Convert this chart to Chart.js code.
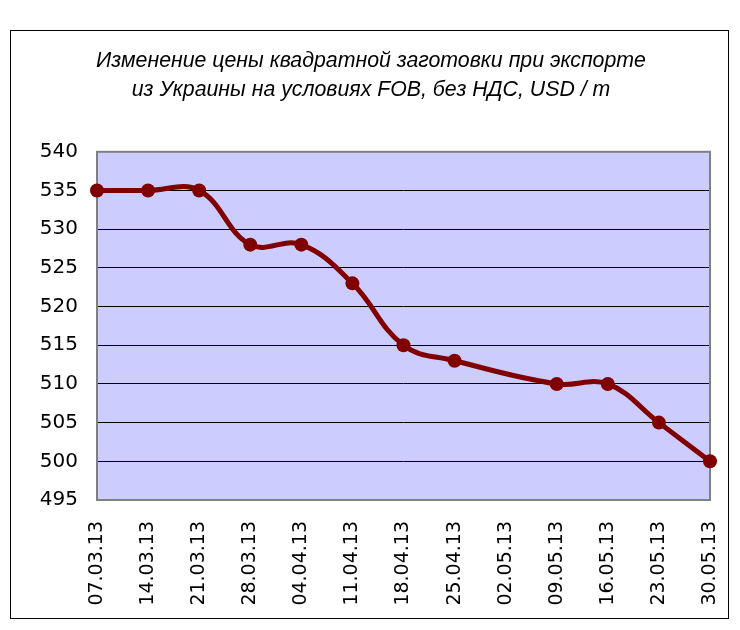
<!DOCTYPE html>
<html>
<head>
<meta charset="utf-8">
<script src="https://cdn.jsdelivr.net/npm/chart.js@4"></script>
<style>
  body { margin: 0; background: #fff; }
  canvas { display: block; }
</style>
</head>
<body>
<canvas id="priceChart" width="740" height="630"></canvas>
<script>
const dates = ['07.03.13', '14.03.13', '21.03.13', '28.03.13', '04.04.13', '11.04.13', '18.04.13',
  '25.04.13', '02.05.13', '09.05.13', '16.05.13', '23.05.13', '30.05.13'];
// 02.05.13 has no marker in the source, the line just runs across it
const prices = [535, 535, 535, 528, 528, 523, 515, 513, null, 510, 510, 505, 500];
const yMin = 495;
const yMax = 540;
const yStep = 5;
const titleLines = [
  'Изменение цены квадратной заготовки при экспорте',
  'из Украины на условиях FOB, без НДС, USD / т'
];

const framePlugin = {
  id: 'frame',
  beforeDraw(chart) {
    const c = chart.ctx;
    const a = chart.chartArea;
    c.save();
    c.fillStyle = '#fff';
    c.fillRect(0, 0, chart.width, chart.height);
    c.strokeStyle = '#000';
    c.lineWidth = 1;
    c.strokeRect(10.5, 30.5, 718, 588);
    c.fillStyle = '#ccccff';
    c.fillRect(a.left, a.top, a.right - a.left, a.bottom - a.top);
    c.restore();
  },
  beforeDatasetsDraw(chart) {
    const c = chart.ctx;
    const a = chart.chartArea;
    c.save();
    c.strokeStyle = '#808080';
    c.lineWidth = 2;
    c.strokeRect(a.left, a.top, a.right - a.left, a.bottom - a.top);
    c.restore();
  }
};

const ctx = document.getElementById('priceChart').getContext('2d');

new Chart(ctx, {
  type: 'line',
  data: {
    labels: dates,
    datasets: [{
      data: prices,
      borderColor: '#800000',
      backgroundColor: '#800000',
      borderWidth: 5,
      pointRadius: 7,
      pointBorderWidth: 0,
      pointBackgroundColor: '#800000',
      tension: 0.4,
      spanGaps: true,
      clip: false
    }]
  },
  options: {
    responsive: false,
    animation: false,
    layout: { padding: { left: 32, right: 30, top: 46, bottom: 8 } },
    plugins: {
      legend: { display: false },
      tooltip: { enabled: false },
      title: {
        display: true,
        text: titleLines,
        color: '#000',
        font: { family: 'Liberation Sans', size: 21.3, style: 'italic', weight: 'normal', lineHeight: 1.38 },
        padding: { top: 0, bottom: 47 }
      }
    },
    scales: {
      x: {
        grid: { display: false, drawTicks: false },
        border: { display: false },
        afterFit: s => {
          s.height = 122;
          s.paddingLeft = 0;
          s.paddingRight = 0;
        },
        ticks: {
          autoSkip: false,
          minRotation: 90,
          maxRotation: 90,
          padding: 21,
          color: '#000',
          font: { family: 'DejaVu Sans', size: 19 }
        }
      },
      y: {
        min: yMin,
        max: yMax,
        afterFit: s => { s.width = 65; },
        grid: { color: '#000', lineWidth: 1, drawTicks: false },
        border: { display: false },
        ticks: {
          stepSize: yStep,
          padding: 19,
          color: '#000',
          font: { family: 'DejaVu Sans', size: 20 }
        }
      }
    }
  },
  plugins: [framePlugin]
});
</script>
</body>
</html>
